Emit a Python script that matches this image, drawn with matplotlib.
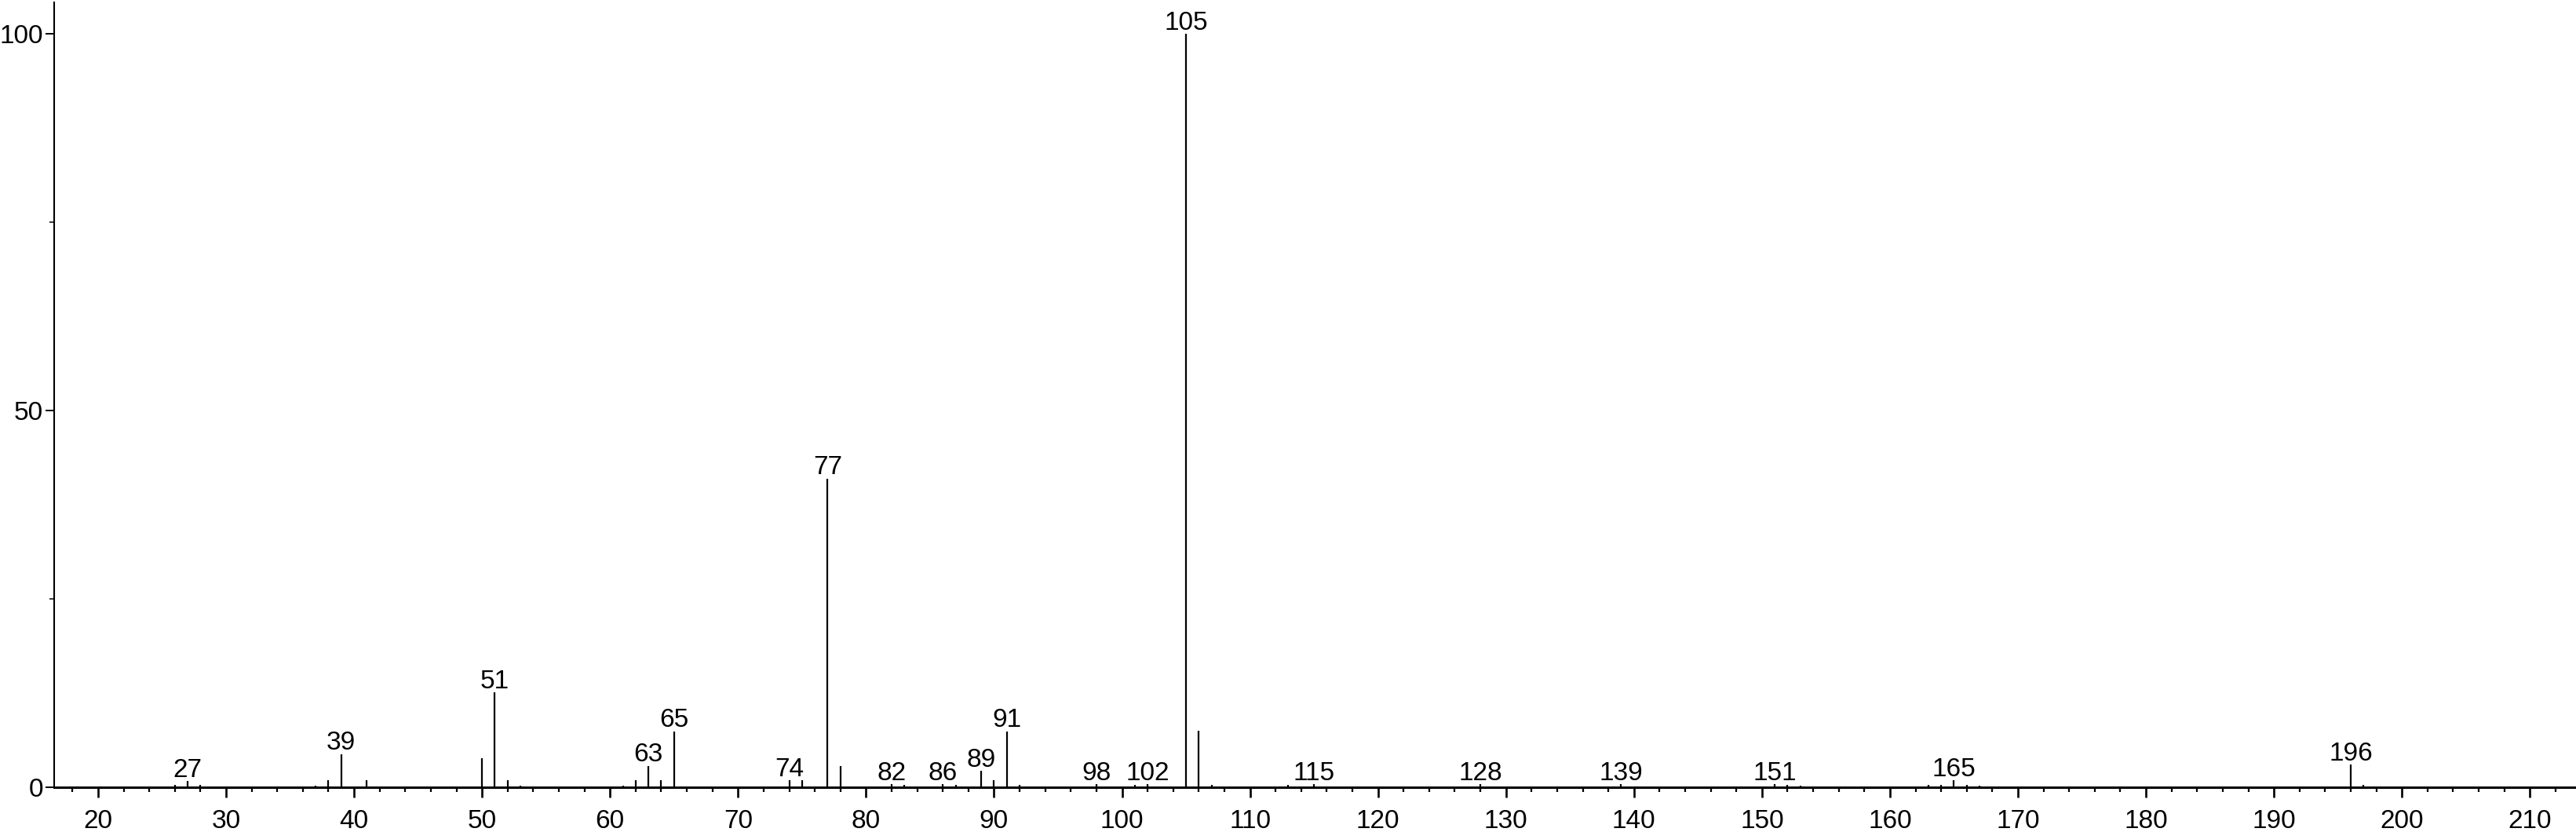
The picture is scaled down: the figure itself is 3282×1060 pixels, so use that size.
import matplotlib
matplotlib.use("Agg")
import matplotlib.pyplot as plt
from matplotlib.ticker import MultipleLocator

# mass spectrum peaks (m/z, relative intensity %)
mz = [26, 27, 28, 37, 38, 39, 41, 50, 51, 52, 53, 61, 62, 63, 64, 65,
      74, 75, 77, 78, 82, 83, 86, 87, 89, 90, 91, 92, 98, 101, 102,
      105, 106, 107, 113, 115, 128, 139, 151, 152, 153, 163, 164, 165,
      166, 167, 196, 197]
intensity = [0.3, 0.8, 0.3, 0.2, 0.9, 4.4, 0.9, 3.85, 12.6, 0.9, 0.2, 0.2, 0.9, 2.85, 0.9, 7.4,
             0.9, 0.9, 41.0, 2.85, 0.4, 0.3, 0.4, 0.3, 2.15, 0.9, 7.4, 0.3, 0.4, 0.3, 0.4,
             100.0, 7.5, 0.3, 0.3, 0.4, 0.4, 0.4, 0.4, 0.3, 0.2, 0.3, 0.3, 0.9,
             0.3, 0.2, 3.0, 0.3]
labeled = [27, 39, 51, 63, 65, 74, 77, 82, 86, 89, 91, 98, 102, 105,
           115, 128, 139, 151, 165, 196]

plt.rcParams['font.family'] = ['Liberation Sans', 'DejaVu Sans']

fig = plt.figure(figsize=(32.82, 10.60), dpi=100)
ax = fig.add_axes([69 / 3282, 1 - 1003 / 1060, 1 - 69 / 3282, (1003 - 3) / 1060])

ax.vlines(mz, 0, intensity, color='black', linewidth=1.6)

for m, h in zip(mz, intensity):
    if m in labeled:
        ax.annotate(str(m), (m, h), xytext=(0, 4), textcoords='offset points',
                    ha='center', va='baseline', fontsize=24)

ax.set_xlim(16.57, 213.6)
ax.set_ylim(0, 104.2)

ax.spines['top'].set_visible(False)
ax.spines['right'].set_visible(False)
ax.spines['bottom'].set_linewidth(2.2)
ax.spines['left'].set_linewidth(1.5)

ax.xaxis.set_major_locator(MultipleLocator(10))
ax.xaxis.set_minor_locator(MultipleLocator(2))
ax.yaxis.set_major_locator(MultipleLocator(50))
ax.yaxis.set_minor_locator(MultipleLocator(25))

ax.tick_params(axis='x', which='major', length=9.5, width=1.9, pad=11, labelsize=24)
ax.tick_params(axis='x', which='minor', length=4.5, width=1.6)
ax.tick_params(axis='y', which='major', length=8, width=1.4, pad=2, labelsize=24)
ax.tick_params(axis='y', which='minor', length=4, width=1.1)

fig.savefig("out.png", dpi=100)
